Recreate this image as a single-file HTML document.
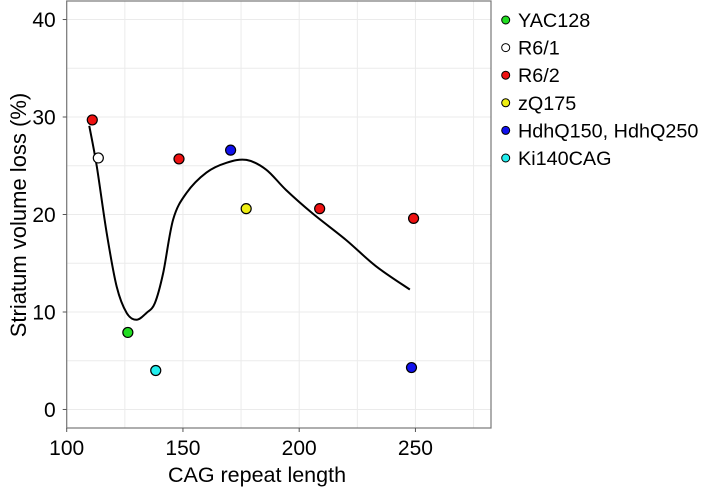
<!DOCTYPE html>
<html><head><meta charset="utf-8"><style>
body{margin:0;background:#fff;}
svg{display:block;font-family:"Liberation Sans",Arial,sans-serif;}
</style></head><body>
<svg id="chart" width="718" height="488" xmlns="http://www.w3.org/2000/svg"></svg>
<script>
const pointX=[111,113.6,126.3,138.3,148.3,170.5,177.2,208.8,249.2,248.3];
const pointY=[29.7,25.8,7.9,4.0,25.7,26.6,20.6,20.6,19.6,4.3];
const pointGroup=[2,1,0,5,2,4,3,2,2,4];
const curveX=[109.7,112.9,117.2,121.5,125.8,130,134.3,137.9,141.5,145.8,151.5,160.1,168.7,177.3,185.8,194.4,205.8,220.1,233,247.6];
const curveY=[29.1,25,18.1,12.6,9.9,9.2,9.9,10.9,14.0,19.5,22.2,24.3,25.3,25.6,24.6,22.5,20.1,17.4,14.7,12.3];
const groupNames=["YAC128","R6/1","R6/2","zQ175","HdhQ150, HdhQ250","Ki140CAG"];
const groupColors=["#22dd22","#ffffff","#ee1111","#eeee11","#1111ee","#22eeee"];
const xTicks=[100,150,200,250];
const yTicks=[0,10,20,30,40];
const NS="http://www.w3.org/2000/svg";
const svg=document.getElementById('chart');
const L=66.7,R=491,T=1,B=428;
const xMin=100,xMax=282.5,yMin=-1.9,yMax=41.9;
const sx=v=>L+(v-xMin)/(xMax-xMin)*(R-L);
const sy=v=>B-(v-yMin)/(yMax-yMin)*(B-T);
function mk(tag,attrs,parent){const e=document.createElementNS(NS,tag);for(const k in attrs)e.setAttribute(k,attrs[k]);(parent||svg).appendChild(e);return e;}
const grid=mk('g',{});


for(let v=100;v<=275;v+=25){mk('line',{x1:sx(v),x2:sx(v),y1:T,y2:B,stroke:'#ebebeb','stroke-width':1},grid);}
for(let v=0;v<=40;v+=5){mk('line',{x1:L,x2:R,y1:sy(v),y2:sy(v),stroke:'#ebebeb','stroke-width':1},grid);}
const frame=mk('rect',{x:L,y:T,width:R-L,height:B-T,fill:'none',stroke:'#777','stroke-width':1.2});


xTicks.forEach(v=>{
 mk('line',{x1:sx(v),x2:sx(v),y1:B,y2:B+4,stroke:'#555'});
 const t=mk('text',{x:sx(v),y:455,'text-anchor':'middle','font-size':21,fill:'#000'});t.textContent=v;
 
 
});
yTicks.forEach(v=>{
 mk('line',{x1:L-4,x2:L,y1:sy(v),y2:sy(v),stroke:'#555'});
 const t=mk('text',{x:L-11,y:sy(v)+7.5,'text-anchor':'end','font-size':21,fill:'#000'});t.textContent=v;
 
 
});
const xt=mk('text',{x:257,y:482,'text-anchor':'middle','font-size':21.5});xt.textContent='CAG repeat length';


const yt=mk('text',{x:0,y:0,'text-anchor':'middle','font-size':22,transform:'translate(26,215) rotate(-90)'});yt.textContent='Striatum volume loss (%)';


const px=curveX.map(sx),py=curveY.map(sy);
let d='M'+px[0]+','+py[0];
for(let i=0;i<px.length-1;i++){
 const p0=i>0?i-1:i,p3=i+2<px.length?i+2:i+1;
 const c1x=px[i]+(px[i+1]-px[p0])/6,c1y=py[i]+(py[i+1]-py[p0])/6;
 const c2x=px[i+1]-(px[p3]-px[i])/6,c2y=py[i+1]-(py[p3]-py[i])/6;
 d+=' C'+c1x+','+c1y+' '+c2x+','+c2y+' '+px[i+1]+','+py[i+1];
}
const curve=mk('path',{d:d,fill:'none',stroke:'#000','stroke-width':2});


pointX.forEach((v,i)=>{
 const c=mk('circle',{cx:sx(v),cy:sy(pointY[i]),r:5,fill:groupColors[pointGroup[i]],stroke:'#000','stroke-width':1.2});
 
 
});
groupNames.forEach((n,i)=>{
 const y=20+i*27.6;
 const g=mk('g',{});
 
 
 mk('circle',{cx:505.7,cy:y,r:4,fill:groupColors[i],stroke:'#000','stroke-width':1},g);
 const t=mk('text',{x:518,y:y+7,'font-size':19.8},g);t.textContent=n;
});
</script>
</body></html>
